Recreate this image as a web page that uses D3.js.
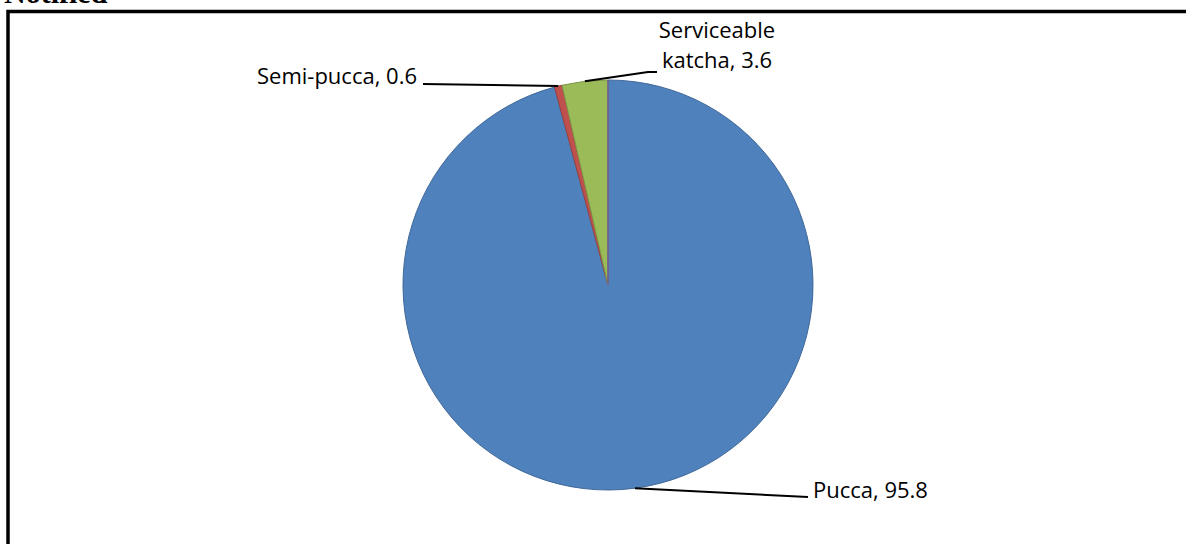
<!DOCTYPE html>
<html>
<head>
<meta charset="utf-8">
<script src="https://cdn.jsdelivr.net/npm/d3@7"></script>
<style>
  html, body { margin: 0; padding: 0; background: #fff; }
  svg { display: block; }
</style>
</head>
<body>
<svg id="chart" width="1186" height="544"></svg>
<script>
// ---- data ----
const categories = ["Pucca", "Semi-pucca", "Serviceable katcha"];
const values = [95.8, 0.6, 3.6];
const labelLines = [["Pucca, 95.8"], ["Semi-pucca, 0.6"], ["Serviceable", "katcha, 3.6"]];
const colors = ["#4F81BD", "#C0504D", "#9BBB59"];
const headerText = "Notified";

// ---- layout ----
const W = 1186, H = 544;
const cx = 608, cy = 285, R = 205;
const svg = d3.select("#chart");

// header text (partially cut off)
svg.append("text")
  .attr("x", 4).attr("y", 3)
  .attr("font-family", "Liberation Serif, serif")
  .attr("font-weight", "bold")
  .attr("font-size", 30)
  .attr("fill", "#000")
  .text(headerText);

// frame
svg.append("rect")
  .attr("x", 8).attr("y", 11.5)
  .attr("width", W + 20).attr("height", H + 20)
  .attr("fill", "none")
  .attr("stroke", "#000")
  .attr("stroke-width", 3.5);

const data = categories.map((c, i) => ({ cat: c, value: values[i], lines: labelLines[i], color: colors[i] }));

const pie = d3.pie().value(d => d.value).sort(null);
const arcs = pie(data);
const arc = d3.arc().innerRadius(0).outerRadius(R);

const g = svg.append("g").attr("transform", `translate(${cx},${cy})`);

g.selectAll("path.slice")
  .data(arcs)
  .enter().append("path")
  .attr("class", "slice")
  .attr("d", arc)
  .attr("fill", d => d.data.color)
  .attr("stroke", d => d3.color(d.data.color).darker(0.6))
  .attr("stroke-width", 1);

// purple-ish start edge line (as in the original rendering)
const p0 = d3.pointRadial(arcs[0].startAngle, R);
g.append("line")
  .attr("x1", 0).attr("y1", 0)
  .attr("x2", p0[0]).attr("y2", p0[1])
  .attr("stroke", "#6f5a96")
  .attr("stroke-width", 1.5);

// label layout (relative to centre)
const labelLayout = [
  { path: [[200, 212]], text: { x: 205, y: 213, anchor: "start" } },
  { path: [[-185, -201]], text: { x: -191, y: -201, anchor: "end" } },
  { path: [[40, -213], [49, -213]], text: { x: 109, y: -247, anchor: "middle" } }
];
const fontSize = 22;
const lineH = 30;

arcs.forEach((a, i) => {
  const mid = (a.startAngle + a.endAngle) / 2;
  const start = d3.pointRadial(mid, R);
  const L = labelLayout[i];
  const pts = [start].concat(L.path);
  g.append("path")
    .attr("d", d3.line()(pts))
    .attr("fill", "none")
    .attr("stroke", "#000")
    .attr("stroke-width", 2);
  const t = g.append("text")
    .attr("font-family", "Open Sans, sans-serif")
    .attr("font-size", fontSize)
    .attr("fill", "#000")
    .attr("text-anchor", L.text.anchor);
  a.data.lines.forEach((ln, j) => {
    t.append("tspan")
      .attr("x", L.text.x)
      .attr("y", L.text.y + j * lineH)
      .text(ln);
  });
});
</script>
</body>
</html>
